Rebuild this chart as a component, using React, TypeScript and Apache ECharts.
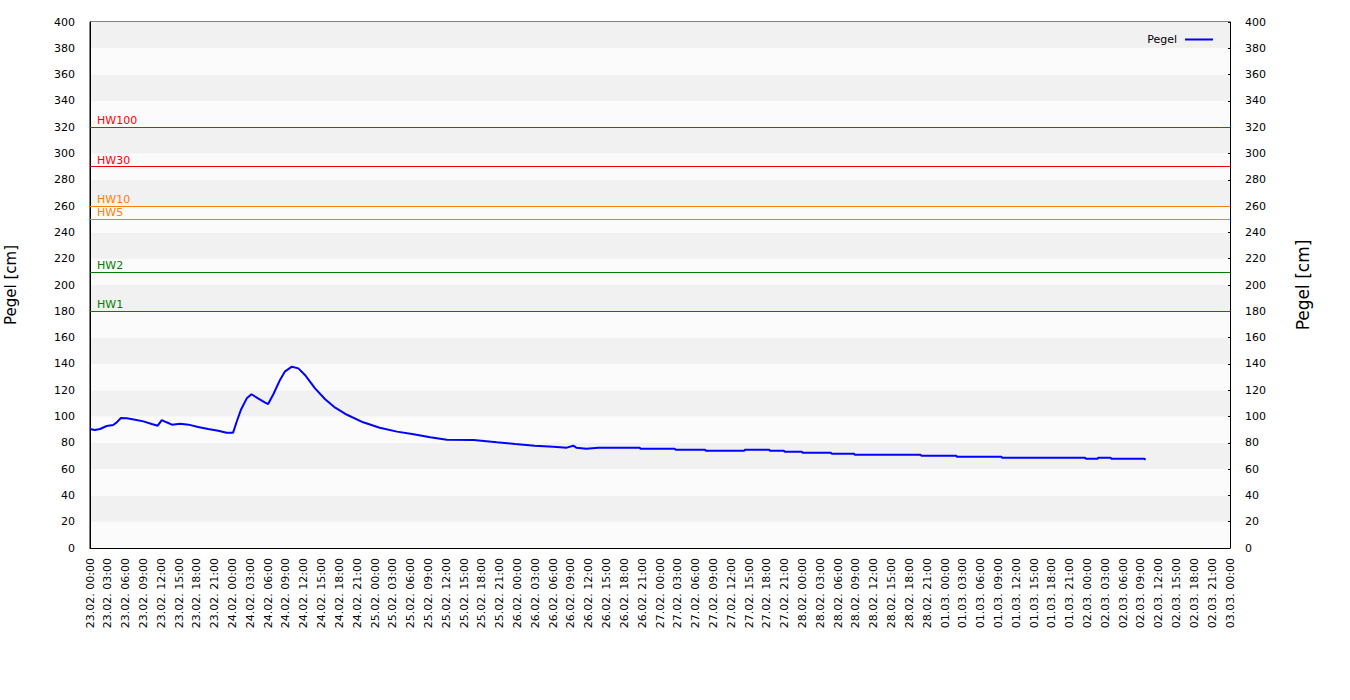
import React, { useEffect, useRef } from "react";
import * as echarts from "echarts";

// hours since 23.02. 00:00
const hours: number[] = [
  0, 0.8, 1.7, 2.8, 3.9, 4.5, 5.2, 6.2, 7.6, 9.0, 10.4, 11.4, 12.1, 12.9, 13.8, 15.2, 16.6, 18.2, 19.9, 21.6, 23.0, 24.1,
  24.7, 25.4, 26.4, 27.2, 28.3, 29.5, 30.0, 30.9, 32.0, 32.8, 34.0, 35.1, 36.2, 37.9, 39.6, 41.3, 43.2, 46.0, 48.8,
  51.7, 54.5, 57.3, 60.1, 64.6, 68.5, 71.6, 74.9, 78.0, 80.3, 81.4, 81.9, 83.6, 85.6, 89.3, 92.6, 92.7, 98.5, 98.6,
  103.6, 103.7, 110.2, 110.3, 114.4, 114.5, 116.9, 117.0, 119.9, 120.0, 124.8, 124.9, 128.7, 128.8, 139.9, 140.0,
  145.9, 146.0, 153.5, 153.6, 167.6, 167.7, 169.7, 169.8, 171.9, 172.0, 177.5, 177.8,
];
const pegel: number[] = [
  90.5, 89.7, 90.5, 92.8, 93.5, 95.5, 98.9, 98.6, 97.6, 96.3, 94.3, 93.0, 97.3, 95.6, 93.8, 94.5, 93.8, 92.0, 90.5, 89.2, 87.7, 87.7,
  96.0, 104.9, 113.8, 116.9, 113.8, 110.5, 109.5, 117.1, 127.8, 134.1, 137.9, 136.6, 131.6, 121.4, 113.1, 106.7, 101.5, 95.6, 91.5,
  88.5, 86.5, 84.2, 82.4, 82.1, 80.4, 79.1, 77.8, 77.0, 76.3, 77.8, 76.3, 75.5, 76.3, 76.3, 76.3, 75.5, 75.5, 74.8,
  74.8, 74.0, 74.0, 74.8, 74.8, 74.0, 74.0, 73.2, 73.2, 72.5, 72.5, 71.7, 71.7, 70.9, 70.9, 70.2,
  70.2, 69.4, 69.4, 68.7, 68.7, 67.9, 67.9, 68.7, 68.7, 67.9, 67.9, 67.1,
];

const dayLabels: string[] = ["23.02.", "24.02.", "25.02.", "26.02.", "27.02.", "28.02.", "01.03.", "02.03.", "03.03."];

const hwNames: string[] = ["HW100", "HW30", "HW10", "HW5", "HW2", "HW1"];
const hwValues: number[] = [320, 290, 260, 250, 210, 180];
const hwColors: string[] = ["#ff0000", "#ee0000", "#ff8000", "#ff8000", "#008000", "#008000"];

const FONT = "DejaVu Sans";

export default function App() {
  const ref = useRef<HTMLDivElement>(null);
  useEffect(() => {
    if (!ref.current) return;
    const chart = echarts.init(ref.current, undefined, { renderer: "svg" });
    const pad = (n: number) => (n < 10 ? "0" + n : "" + n);
    chart.setOption({
      animation: false,
      backgroundColor: "#ffffff",
      textStyle: { fontFamily: FONT },
      grid: {
        left: 90,
        top: 22,
        width: 1140,
        height: 526,
        show: true,
        borderColor: "#000",
        borderWidth: 1,
        backgroundColor: "transparent",
        containLabel: false,
        outerBoundsMode: "none",
      },
      legend: {
        data: ["Pegel"],
        right: 132,
        top: 29,
        align: "right",
        icon: "rect",
        itemWidth: 28,
        itemHeight: 2,
        itemGap: 5,
        textStyle: { fontFamily: FONT, fontSize: 11, color: "#000", padding: [0, 3, 0, 0] },
      },
      xAxis: {
        type: "value",
        min: 0,
        max: 192,
        interval: 3,
        axisLine: { show: true, lineStyle: { color: "#000", width: 1 } },
        axisTick: { show: false },
        splitLine: { show: false },
        axisLabel: {
          rotate: 90,
          margin: 10,
          fontFamily: FONT,
          fontSize: 11,
          color: "#000",
          formatter: (v: number) => {
            const d = Math.floor(v / 24);
            const h = Math.round(v - d * 24);
            return dayLabels[d] + " " + pad(h) + ":00";
          },
        },
      },
      yAxis: [
        {
          type: "value",
          min: 0,
          max: 400,
          interval: 20,
          position: "left",
          name: "Pegel [cm]",
          nameLocation: "middle",
          nameGap: 72,
          nameTextStyle: { fontFamily: FONT, fontSize: 15, color: "#000" },
          axisLine: { show: true, lineStyle: { color: "#000" } },
          axisTick: { show: false },
          splitLine: { show: false },
          splitArea: { show: true, areaStyle: { color: ["#fbfbfb", "#f1f1f1"] } },
          axisLabel: { margin: 15, fontFamily: FONT, fontSize: 11, color: "#000" },
        },
        {
          type: "value",
          min: 0,
          max: 400,
          interval: 20,
          position: "right",
          name: "Pegel [cm]",
          nameLocation: "middle",
          nameGap: 64,
          nameTextStyle: { fontFamily: FONT, fontSize: 17, color: "#000" },
          axisLine: { show: true, lineStyle: { color: "#000" } },
          axisTick: { show: true, inside: true, length: 2, lineStyle: { color: "#000" } },
          splitLine: { show: false },
          axisLabel: { margin: 15, fontFamily: FONT, fontSize: 11, color: "#000" },
        },
      ],
      series: [
        {
          name: "Pegel",
          type: "line",
          yAxisIndex: 0,
          data: hours.map((h, i) => [h, pegel[i]]),
          showSymbol: false,
          symbol: "none",
          lineStyle: { color: "#0000ff", width: 2 },
          itemStyle: { color: "#0000ff" },
          markLine: {
            silent: true,
            symbol: "none",
            animation: false,
            data: hwNames.map((n, i) => ({
              name: n,
              yAxis: hwValues[i],
              lineStyle: { color: hwColors[i], width: 1, type: "solid" },
              label: {
                show: true,
                position: "insideStartTop",
                formatter: n,
                color: hwColors[i] === "#ee0000" ? "#ff0000" : hwColors[i],
                fontFamily: FONT,
                fontSize: 11,
                distance: [7, 1],
              },
            })),
          },
        },
      ],
    });
    return () => chart.dispose();
  }, []);
  return <div ref={ref} style={{ position: "fixed", left: 0, top: 0, width: 1350, height: 700 }} />;
}
